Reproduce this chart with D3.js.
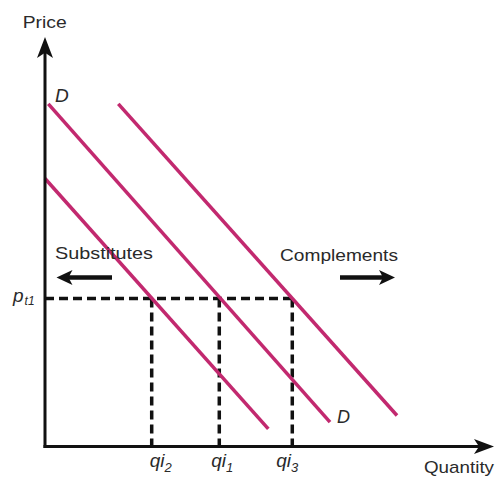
<!DOCTYPE html>
<html><head><meta charset="utf-8">
<script src="https://cdn.jsdelivr.net/npm/d3@7"></script>
<style>body{margin:0;background:#fff}svg{display:block}text{font-family:"Liberation Sans",Arial,sans-serif;fill:#2a2a2a}</style>
</head><body>
<script>
// Demand curves (quantity, price) in abstract units 0..100
const demandLeft = [[0, 66.0], [50.75, 4.36]];
const demandMid = [[0.75, 84.41], [64.77, 5.99]];
const demandRight = [[16.66, 84.41], [80.0, 7.64]];
const priceLevel = 36.45;
const qTicks = [{label: "qi", sub: "2", q: 24.25}, {label: "qi", sub: "1", q: 39.61}, {label: "qi", sub: "3", q: 56.2}];

const W = 495, H = 477;
const svg = d3.select("body").append("svg").attr("width", W).attr("height", H);
const x = d3.scaleLinear().domain([0, 100]).range([45, 485]);
const y = d3.scaleLinear().domain([0, 100]).range([446.5, 40.5]);

const line = d3.line().x(d => x(d[0])).y(d => y(d[1]));
const magenta = "#c2296f";
const ink = "#111";

// dashed guides
svg.append("line").attr("x1", x(0)).attr("x2", x(qTicks[2].q)).attr("y1", y(priceLevel)).attr("y2", y(priceLevel))
  .attr("stroke", ink).attr("stroke-width", 3.5).attr("stroke-dasharray", "9,5");
qTicks.forEach(t => {
  svg.append("line").attr("x1", x(t.q)).attr("x2", x(t.q)).attr("y1", y(priceLevel)).attr("y2", y(0))
    .attr("stroke", ink).attr("stroke-width", 3.5).attr("stroke-dasharray", "9,5");
});

[demandLeft, demandMid, demandRight].forEach(d => {
  svg.append("path").attr("d", line(d)).attr("stroke", magenta).attr("stroke-width", 3.5).attr("fill", "none");
});

// arrowhead helper: tip point, direction angle, length, half-width
function head(tx, ty, ang, len, hw) {
  const c = Math.cos(ang), s = Math.sin(ang);
  const bx = tx - c * len, by = ty - s * len;
  const nx = -s, ny = c;
  const ix = tx - c * len * 0.75, iy = ty - s * len * 0.75;
  svg.append("path").attr("d", `M${tx},${ty} L${bx + nx * hw},${by + ny * hw} L${ix},${iy} L${bx - nx * hw},${by - ny * hw} Z`)
    .attr("fill", ink);
}

// axes
svg.append("line").attr("x1", x(0)).attr("y1", y(0) + 1.5).attr("x2", x(0)).attr("y2", 50)
  .attr("stroke", ink).attr("stroke-width", 3);
head(x(0), 37, -Math.PI / 2, 21, 8);
svg.append("line").attr("x1", x(0) - 1.5).attr("y1", y(0)).attr("x2", 482).attr("y2", y(0))
  .attr("stroke", ink).attr("stroke-width", 3);
head(494, y(0), 0, 20, 7.5);

svg.append("text").attr("x", 22.7).attr("y", 28.3).attr("font-size", 17)
  .attr("textLength", 44).attr("lengthAdjust", "spacingAndGlyphs").text("Price");
svg.append("text").attr("x", 424).attr("y", 473).attr("font-size", 17)
  .attr("textLength", 70).attr("lengthAdjust", "spacingAndGlyphs").text("Quantity");

svg.append("text").attr("x", 55).attr("y", 101.5).attr("font-size", 19).attr("font-style", "italic").text("D");
svg.append("text").attr("x", 337).attr("y", 423).attr("font-size", 18).attr("font-style", "italic").text("D");

svg.append("text").attr("x", 55).attr("y", 259.3).attr("font-size", 17)
  .attr("textLength", 98).attr("lengthAdjust", "spacingAndGlyphs").text("Substitutes");
svg.append("text").attr("x", 280).attr("y", 260.5).attr("font-size", 17)
  .attr("textLength", 118).attr("lengthAdjust", "spacingAndGlyphs").text("Complements");

// shift arrows
svg.append("line").attr("x1", 112).attr("y1", 277.5).attr("x2", 66).attr("y2", 277.5)
  .attr("stroke", ink).attr("stroke-width", 4.5);
head(56.5, 277.5, Math.PI, 16, 7.5);
svg.append("line").attr("x1", 340).attr("y1", 277.5).attr("x2", 385).attr("y2", 277.5)
  .attr("stroke", ink).attr("stroke-width", 4.5);
head(395, 277.5, 0, 16, 7.5);

// p label
const pt = svg.append("text").attr("x", 13).attr("y", 302).attr("font-size", 19).attr("font-style", "italic");
pt.append("tspan").text("p");
pt.append("tspan").attr("font-size", 12).attr("dy", 3).attr("dx", 1).text("t1");

const labelDx = [-2, -8, -16];
qTicks.forEach((t, i) => {
  const tx = svg.append("text").attr("x", x(t.q) + labelDx[i]).attr("y", 467).attr("font-size", 19).attr("font-style", "italic");
  tx.append("tspan").text(t.label);
  tx.append("tspan").attr("font-size", 13).attr("dy", 5).text(t.sub);
});
</script>
</body></html>
